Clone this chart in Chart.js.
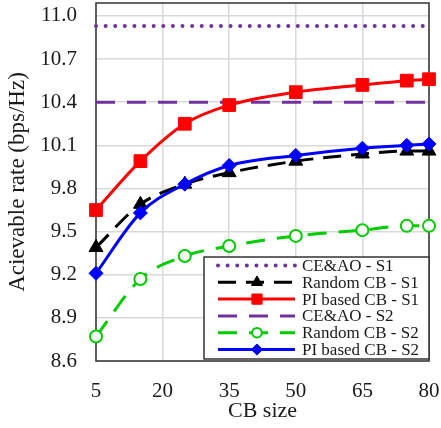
<!DOCTYPE html>
<html>
<head>
<meta charset="utf-8">
<script src="https://cdn.jsdelivr.net/npm/chart.js@4/dist/chart.umd.min.js"></script>
<style>
html,body{margin:0;padding:0;background:#fff;}
#wrap{width:441px;height:428px;}
</style>
</head>
<body>
<div id="wrap"><canvas id="c" width="441" height="428"></canvas></div>
<script>
const cbSizes = [5, 15, 25, 35, 50, 65, 75, 80];
const xTicks = [5, 20, 35, 50, 65, 80];
const yTicks = [8.6, 8.9, 9.2, 9.5, 9.8, 10.1, 10.4, 10.7, 11.0];
const ceaoS1 = [10.93, 10.93, 10.93, 10.93, 10.93, 10.93, 10.93, 10.93];
const randomS1 = [9.39, 9.69, 9.83, 9.91, 9.99, 10.04, 10.06, 10.06];
const piS1 = [9.65, 9.99, 10.25, 10.38, 10.47, 10.52, 10.55, 10.56];
const ceaoS2 = [10.40, 10.40, 10.40, 10.40, 10.40, 10.40, 10.40, 10.40];
const randomS2 = [8.77, 9.17, 9.33, 9.40, 9.47, 9.51, 9.54, 9.54];
const piS2 = [9.21, 9.63, 9.83, 9.96, 10.03, 10.08, 10.10, 10.11];
const seriesNames = ['CE&AO - S1', 'Random CB - S1', 'PI based CB - S1', 'CE&AO - S2', 'Random CB - S2', 'PI based CB - S2'];
const xTitle = 'CB size';
const yTitle = 'Acievable rate (bps/Hz)';

const SERIF = '"Liberation Serif", "Times New Roman", "DejaVu Serif", serif';
const toPts = arr => arr.map((v, i) => ({x: cbSizes[i], y: v}));

const PURPLE = '#7030A0', GREEN = '#00CC00', BLUE = '#0000FF', RED = '#FF0000', BLACK = '#000000';

const datasets = [
  {label: seriesNames[0], data: toPts(ceaoS1), borderColor: PURPLE, borderWidth: 4, borderDash: [0.01, 9.6], borderCapStyle: 'round', pointRadius: 0, order: 4},
  {label: seriesNames[1], data: toPts(randomS1), borderColor: BLACK, borderWidth: 3, borderDash: [18, 10], pointStyle: 'triangle', pointRadius: 8, pointBackgroundColor: BLACK, pointBorderColor: BLACK, pointBorderWidth: 1, order: 2},
  {label: seriesNames[2], data: toPts(piS1), borderColor: RED, borderWidth: 3, pointStyle: 'rect', pointRadius: 9, pointBackgroundColor: RED, pointBorderColor: RED, pointBorderWidth: 1, order: 1},
  {label: seriesNames[3], data: toPts(ceaoS2), borderColor: PURPLE, borderWidth: 3, borderDash: [19, 12], pointRadius: 0, order: 4},
  {label: seriesNames[4], data: toPts(randomS2), borderColor: GREEN, borderWidth: 3, borderDash: [19, 12], pointStyle: 'circle', pointRadius: 6, pointBackgroundColor: '#ffffff', pointBorderColor: GREEN, pointBorderWidth: 2, order: 3},
  {label: seriesNames[5], data: toPts(piS2), borderColor: BLUE, borderWidth: 3, pointStyle: 'rectRot', pointRadius: 7, pointBackgroundColor: BLUE, pointBorderColor: BLUE, pointBorderWidth: 1, order: 0}
];
datasets.forEach(d => { d.cubicInterpolationMode = 'monotone'; d.fill = false; d.clip = false; });

const frame = {
  id: 'frame',
  beforeDatasetsDraw(chart) {
    const {ctx, chartArea: a} = chart;
    ctx.save();
    ctx.strokeStyle = '#333333';
    ctx.lineWidth = 1.5;
    ctx.strokeRect(a.left, a.top, a.right - a.left, a.bottom - a.top);
    ctx.restore();
  }
};

const boxLegend = {
  id: 'boxLegend',
  afterDraw(chart) {
    const {ctx} = chart;
    const x0 = 204, y0 = 257, x1 = 429, y1 = 359;
    ctx.save();
    ctx.fillStyle = '#ffffff';
    ctx.fillRect(x0, y0, x1 - x0, y1 - y0);
    ctx.strokeStyle = '#333333';
    ctx.lineWidth = 1.5;
    ctx.strokeRect(x0, y0, x1 - x0, y1 - y0);
    const rowH = 16.8, firstY = 265.5;
    const lx0 = 218, lx1 = 295, mx = 257, tx = 302;
    ctx.font = '17px ' + SERIF;
    ctx.textBaseline = 'middle';
    ctx.textAlign = 'left';
    chart.data.datasets.forEach((d, i) => {
      const y = firstY + i * rowH;
      ctx.save();
      ctx.strokeStyle = d.borderColor;
      ctx.lineWidth = d.borderWidth;
      ctx.lineCap = d.borderCapStyle || 'butt';
      ctx.setLineDash(d.borderDash || []);
      ctx.beginPath();
      ctx.moveTo(lx0, y);
      ctx.lineTo(lx1, y);
      ctx.stroke();
      ctx.restore();
      if (d.pointRadius > 0) {
        ctx.save();
        ctx.fillStyle = d.pointBackgroundColor;
        ctx.strokeStyle = d.pointBorderColor;
        ctx.lineWidth = d.pointBorderWidth;
        Chart.helpers.drawPoint(ctx, {pointStyle: d.pointStyle, radius: d.pointRadius * 0.8, borderWidth: d.pointBorderWidth, rotation: 0}, mx, y);
        ctx.restore();
      }
      ctx.fillStyle = '#1a1a1a';
      ctx.fillText(d.label, tx, y + 1);
    });
    ctx.restore();
  }
};

new Chart(document.getElementById('c'), {
  type: 'line',
  data: {datasets},
  plugins: [frame, boxLegend],
  options: {
    responsive: false,
    animation: false,
    events: [],
    layout: {autoPadding: false, padding: {top: 3, right: 12, left: 0, bottom: 0}},
    plugins: {legend: {display: false}, tooltip: {enabled: false}},
    scales: {
      x: {
        type: 'linear', min: 5, max: 80,
        afterBuildTicks(s) { s.ticks = xTicks.map(v => ({value: v})); },
        afterFit(s) { s.height = 67; s.paddingLeft = 0; s.paddingRight = 0; s.paddingTop = 0; s.paddingBottom = 0; },
        grid: {color: '#d9d9d9', lineWidth: 1.5, drawTicks: false},
        border: {display: false},
        ticks: {padding: 18, color: '#1a1a1a', font: {family: SERIF, size: 21}, maxRotation: 0, autoSkip: false},
        title: {display: true, text: xTitle, color: '#1a1a1a', font: {family: SERIF, size: 22}, padding: {top: 0, bottom: 4}}
      },
      y: {
        type: 'linear', min: 8.6, max: 11.09,
        afterBuildTicks(s) { s.ticks = yTicks.map(v => ({value: v})); },
        afterFit(s) { s.width = 96; s.paddingLeft = 0; s.paddingRight = 0; s.paddingTop = 0; s.paddingBottom = 0; },
        grid: {color: '#d9d9d9', lineWidth: 1.5, drawTicks: false},
        border: {display: false},
        ticks: {padding: 19, color: '#1a1a1a', font: {family: SERIF, size: 21}, callback: v => Number(v).toFixed(1), autoSkip: false},
        title: {display: true, text: yTitle, color: '#1a1a1a', font: {family: SERIF, size: 23}, padding: {top: 4, bottom: 0}}
      }
    }
  }
});
</script>
</body>
</html>
